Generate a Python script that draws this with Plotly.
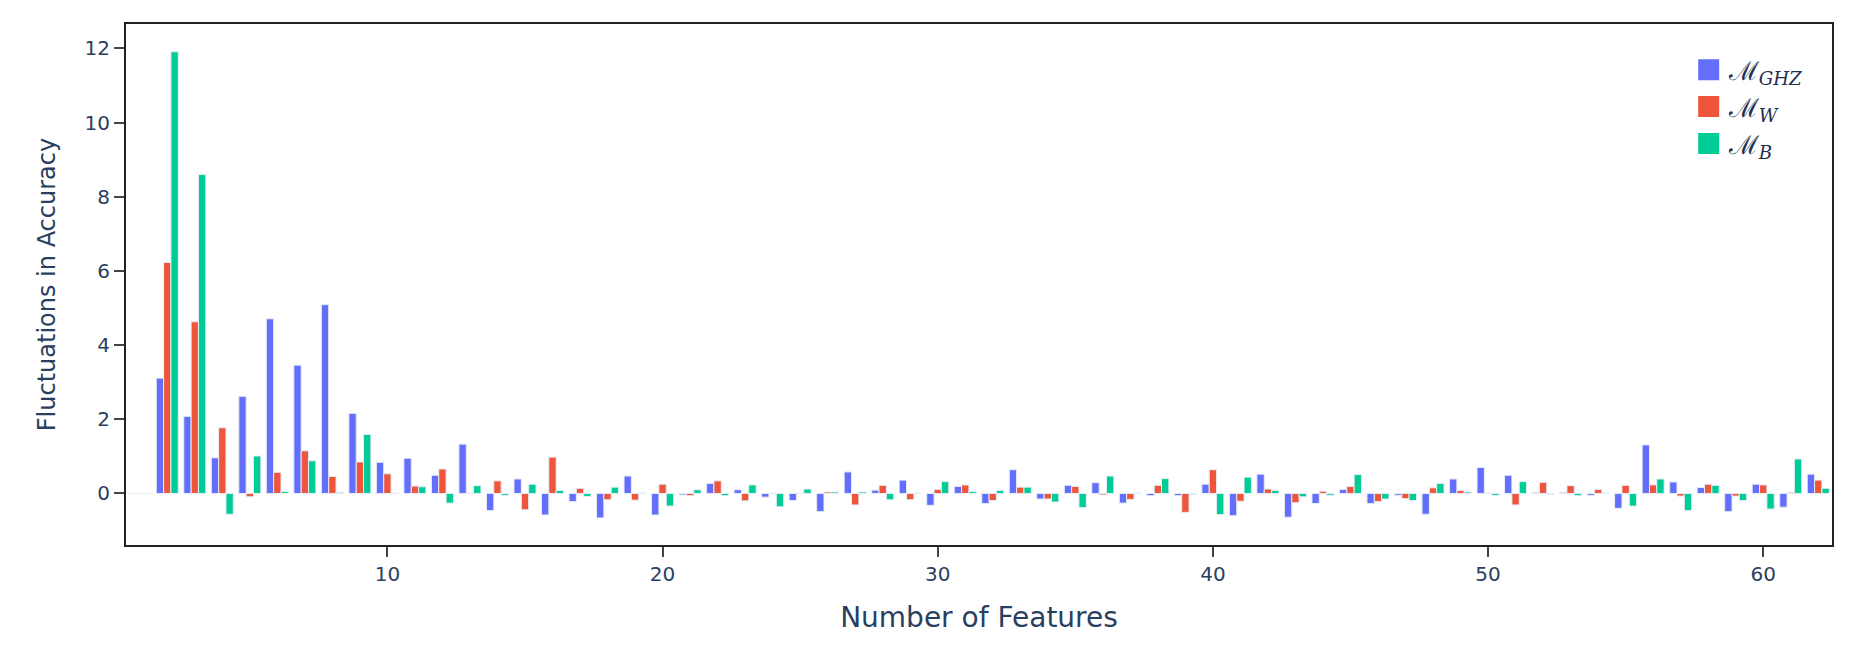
import plotly.graph_objects as go

features = list(range(1, 63))

ghz = [0, 3.11, 2.08, 0.96, 2.62, 4.71, 3.46, 5.09, 2.16, 0.84,
       0.95, 0.49, 1.33, -0.46, 0.39, -0.58, -0.22, -0.66, 0.47, -0.58,
       -0.04, 0.27, 0.10, -0.10, -0.19, -0.49, 0.58, 0.09, 0.36, -0.32,
       0.19, -0.27, 0.64, -0.15, 0.22, 0.29, -0.26, -0.06, -0.06, 0.25,
       -0.60, 0.52, -0.64, -0.27, 0.11, -0.27, -0.05, -0.56, 0.39, 0.70,
       0.49, 0.03, 0.03, -0.05, -0.40, 1.31, 0.31, 0.16, -0.49, 0.25,
       -0.37, 0.52]

w_state = [0, 6.23, 4.63, 1.77, -0.09, 0.57, 1.15, 0.46, 0.85, 0.53,
           0.20, 0.66, 0.01, 0.34, -0.44, 0.98, 0.14, -0.17, -0.18, 0.25,
           -0.06, 0.34, -0.20, 0.01, 0.01, 0.04, -0.31, 0.22, -0.17, 0.11,
           0.23, -0.19, 0.17, -0.15, 0.19, -0.04, -0.16, 0.22, -0.51, 0.64,
           -0.21, 0.12, -0.25, 0.06, 0.19, -0.22, -0.14, 0.15, 0.08, 0.01,
           -0.31, 0.30, 0.21, 0.11, 0.22, 0.23, -0.07, 0.25, -0.07, 0.23,
           0.03, 0.36]

b_state = [0, 11.91, 8.60, -0.56, 1.01, 0.05, 0.88, 0.03, 1.59, 0.01,
           0.18, -0.26, 0.21, -0.05, 0.25, 0.08, -0.08, 0.17, 0.01, -0.34,
           0.10, -0.06, 0.23, -0.36, 0.12, 0.04, 0.04, -0.17, 0.01, 0.32,
           0.05, 0.08, 0.17, -0.23, -0.38, 0.47, 0.01, 0.40, -0.03, -0.57,
           0.44, 0.08, -0.09, -0.05, 0.51, -0.15, -0.19, 0.27, 0.04, -0.05,
           0.32, -0.03, -0.06, 0.01, -0.34, 0.39, -0.46, 0.22, -0.19, -0.42,
           0.93, 0.14]

series_names = ["ℳ<sub><i>GHZ</i></sub>", "ℳ<sub><i>W</i></sub>", "ℳ<sub><i>B</i></sub>"]
series_values = [ghz, w_state, b_state]
colors = ["#636EFA", "#EF553B", "#00CC96"]

y_ticks = [0, 2, 4, 6, 8, 10, 12]
x_ticks = [10, 20, 30, 40, 50, 60]

fig = go.Figure()
for name, vals, col in zip(series_names, series_values, colors):
    fig.add_trace(go.Bar(
        x=features, y=vals, name=name, showlegend=False,
        marker=dict(color=col, line=dict(color="#E5ECF6", width=1)),
    ))
# legend entries (larger squares than the default bar legend glyph)
for name, col in zip(series_names, colors):
    fig.add_trace(go.Scatter(
        x=[None], y=[None], mode="markers", name=name,
        marker=dict(symbol="square", size=16, color=col,
                    line=dict(color=col, width=5)),
    ))

axis_common = dict(
    showline=True, linecolor="#222", linewidth=2, mirror=True,
    ticks="outside", ticklen=10, tickwidth=1.5, tickcolor="#444",
    showgrid=False, zeroline=False, automargin=False,
    tickfont=dict(size=20, color="#2a3f5f"),
)

fig.update_layout(
    width=1864, height=658,
    template="plotly",
    barmode="group", bargap=0.2,
    plot_bgcolor="white", paper_bgcolor="white",
    font=dict(family="Verdana, DejaVu Sans, sans-serif", color="#2a3f5f"),
    margin=dict(l=118, r=40, t=16, b=121),
    xaxis=dict(axis_common, range=[0.5, 62.5], tickvals=x_ticks,
               title=dict(text="Number of Features", font=dict(size=28), standoff=22)),
    yaxis=dict(axis_common, range=[-1.39, 12.66], tickvals=y_ticks,
               title=dict(text="Fluctuations in Accuracy", font=dict(size=24), standoff=22)),
    legend=dict(x=0.916, y=0.957, xanchor="left", yanchor="top",
                bgcolor="rgba(0,0,0,0)",
                font=dict(family="DejaVu Serif", size=26, color="#1f2f4f")),
)

fig.write_html("out.html")
